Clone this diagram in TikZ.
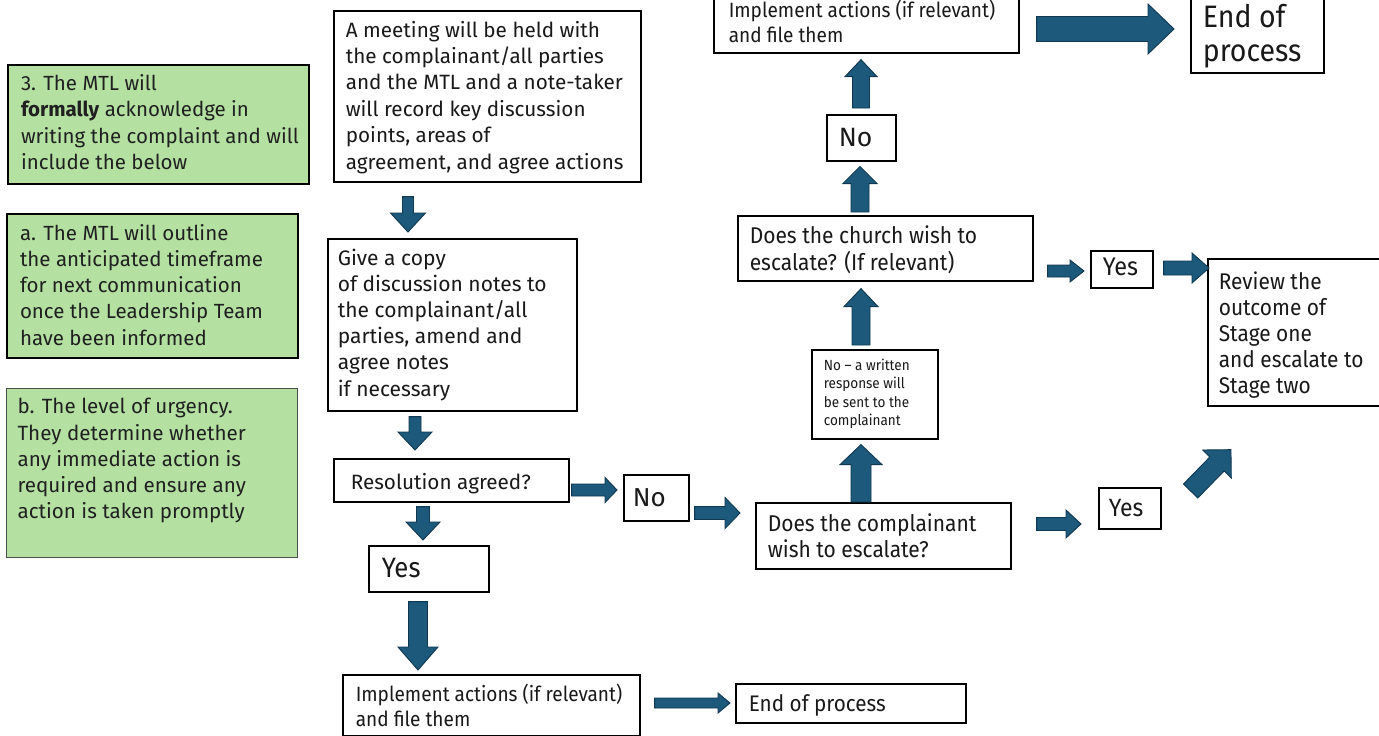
\documentclass[tikz,border=0pt]{standalone}
\usepackage{fontspec}
\setmainfont{Fira Sans}
\newfontfamily\nar[FakeStretch=0.92]{Fira Sans}
\usetikzlibrary{calc}
\definecolor{ablue}{RGB}{28,89,122}
\definecolor{adark}{RGB}{16,56,80}
\definecolor{gfill}{RGB}{180,225,162}
\definecolor{gtext}{RGB}{32,32,32}
\definecolor{btext}{RGB}{25,25,25}
\newcommand\regf[2]{\fontsize{#1}{#2}\selectfont}
\newcommand\narf[2]{\nar\fontsize{#1}{#2}\selectfont}
% optional #1: lowers the text by that many pt, without changing the box
\newcommand\lbox[3][0]{\raisebox{-#1pt}[\height][\depth]{\makebox[#2pt][l]{\begin{tabular}{@{}l@{}}#3\end{tabular}}}}
\tikzset{
  box/.style={draw=black, line width=1.6pt, fill=white, anchor=north west,
    inner ysep=0pt, text=btext},
  gbox/.style={box, fill=gfill, text=gtext, line width=2pt},
  barrow/.style={fill=ablue, draw=adark, line width=0.9pt, line join=miter},
}
% #1 start, #2 end, #3 half shaft width, #4 half head width, #5 head length
\newcommand\blockarrow[5]{%
  \draw[barrow] let \p1=(#1), \p2=(#2),
    \n1={atan2(\y2-\y1,\x2-\x1)}, \n2={veclen(\x2-\x1,\y2-\y1)} in
    ([shift={(\p1)},rotate=\n1]0pt,-#3pt) --
    ([shift={(\p1)},rotate=\n1]{\n2-#5pt},-#3pt) --
    ([shift={(\p1)},rotate=\n1]{\n2-#5pt},-#4pt) --
    ([shift={(\p1)},rotate=\n1]{\n2},0pt) --
    ([shift={(\p1)},rotate=\n1]{\n2-#5pt},#4pt) --
    ([shift={(\p1)},rotate=\n1]{\n2-#5pt},#3pt) --
    ([shift={(\p1)},rotate=\n1]0pt,#3pt) -- cycle;}
\begin{document}
\begin{tikzpicture}[x=1pt,y=-1pt]
\useasboundingbox[fill=white] (0,0) rectangle (1379,736);

% green boxes
\node[gbox, inner xsep=13pt, minimum width=301pt, minimum height=119pt, font=\regf{20.5}{26.5}] (G1) at (7,64)
  {\lbox{275}{3. The MTL will\\ \textbf{formally} acknowledge in\\ writing the complaint and will\\ include the below}};
\node[gbox, inner xsep=13pt, minimum width=291pt, minimum height=144pt, font=\regf{20.5}{26.2}] (G2) at (6,213)
  {\lbox[1.5]{265}{a. The MTL will outline\\ the anticipated timeframe\\ for next communication\\ once the Leadership Team\\ have been informed}};
\node[gbox, draw=black!70, line width=1.2pt, inner xsep=11pt, minimum width=291pt, minimum height=169pt, font=\regf{20.6}{26.2}] (G3) at (6,388)
  {\lbox[1]{269}{b. The level of urgency.\\ They determine whether\\ any immediate action is\\ required and ensure any\\ action is taken promptly\\ \mbox{}}};

% left column
\node[box, inner xsep=12pt, minimum width=307pt, minimum height=171pt, font=\regf{20.7}{26.4}] (M) at (333,10)
  {\lbox[1.5]{283}{A meeting will be held with\\ the complainant/all parties\\ and the MTL and a note-taker\\ will record key discussion\\ points, areas of\\ agreement, and agree actions}};
\node[box, inner xsep=10pt, minimum width=249pt, minimum height=172pt, font=\regf{21}{26.2}] (C) at (327,238)
  {\lbox[0.5]{229}{Give a copy\\ of discussion notes to\\ the complainant/all\\ parties, amend and\\ agree notes\\ if necessary}};
\node[box, inner xsep=17pt, minimum width=235pt, minimum height=43pt, font=\regf{20.7}{26}] (R) at (333,458)
  {\lbox[4]{201}{Resolution agreed?}};
\node[box, inner xsep=13pt, minimum width=120pt, minimum height=46pt, font=\narf{28}{30}] (Yes1) at (368,545)
  {\lbox[3]{94}{Yes}};
\node[box, inner xsep=13pt, minimum width=297pt, minimum height=61pt, font=\narf{20.7}{25}] (I1) at (342,674)
  {\lbox[3.5]{271}{Implement actions (if relevant)\\ and file them}};
\node[box, inner xsep=13pt, minimum width=230pt, minimum height=39pt, font=\narf{22.5}{26}] (E1) at (735,683)
  {\lbox[3]{204}{End of process}};
\node[box, inner xsep=9pt, minimum width=65pt, minimum height=46pt, font=\regf{26}{28}] (No1) at (623,474)
  {\lbox[3]{47}{No}};

% middle column
\node[box, inner xsep=12pt, minimum width=255pt, minimum height=66pt, font=\narf{22.8}{26.5}] (D) at (755,502)
  {\lbox[3.5]{231}{Does the complainant\\ wish to escalate?}};
\node[box, inner xsep=10pt, minimum width=62pt, minimum height=41pt, font=\narf{25}{27}] (Yes2) at (1098,487)
  {\lbox[3]{42}{Yes}};
\node[box, inner xsep=12pt, minimum width=126pt, minimum height=89pt, font=\narf{14.7}{18.6}] (W) at (811,349)
  {\lbox{102}{No – a written\\ response will\\ be sent to the\\ complainant}};
\node[box, inner xsep=12pt, minimum width=295pt, minimum height=65pt, font=\narf{22.8}{27}] (Ch) at (737,215)
  {\lbox[3]{271}{Does the church wish to\\ escalate? (If relevant)}};
\node[box, inner xsep=12pt, minimum width=69pt, minimum height=46pt, font=\regf{26.5}{28}] (No2) at (826,114)
  {\lbox[3]{45}{No}};
\node[box, inner xsep=15pt, minimum width=305pt, minimum height=57pt, font=\narf{20.7}{24.5}] (I2) at (713,-5)
  {\lbox[0.5]{275}{Implement actions (if relevant)\\ and file them}};
\node[box, inner xsep=12pt, minimum width=133pt, minimum height=78pt, font=\narf{31}{34}] (E2) at (1190,-6)
  {\lbox[3.5]{109}{End of\\ process}};
\node[box, inner xsep=12pt, minimum width=62pt, minimum height=37pt, font=\narf{25.5}{27}] (Yes3) at (1090,250)
  {\lbox[1]{38}{Yes}};
\node[box, inner xsep=11pt, minimum width=185pt, minimum height=147pt, font=\narf{22.7}{26.2}] (Rev) at (1207,258)
  {\lbox[4]{163}{Review the\\ outcome of\\ Stage one\\ and escalate to\\ Stage two}};

% arrow end points
\coordinate (a1s) at ($(M.south -| 408,0)+(0,14)$);
\coordinate (a1e) at ($(C.north -| 408,0)+(0,-6)$);
\coordinate (a2s) at ($(C.south -| 415,0)+(0,5)$);
\coordinate (a2e) at ($(R.north -| 415,0)+(0,-8)$);
\coordinate (a3s) at ($(R.south -| 423,0)+(0,4)$);
\coordinate (a3e) at ($(Yes1.north -| 423,0)+(0,-5)$);
\coordinate (a4s) at ($(Yes1.south -| 418,0)+(0,9)$);
\coordinate (a4e) at ($(I1.north -| 418,0)+(0,-4)$);
\coordinate (a5s) at ($(R.east |- 0,490)+(2,0)$);
\coordinate (a5e) at ($(No1.west |- 0,490)+(-6,0)$);
\coordinate (a6s) at ($(No1.east |- 0,513)+(5,0)$);
\coordinate (a6e) at ($(D.west |- 0,513)+(-15,0)$);
\coordinate (a7s) at ($(I1.east |- 0,703)+(14,0)$);
\coordinate (a7e) at ($(E1.west |- 0,703)+(-5,0)$);
\coordinate (a8s) at (D.north -| 861,0);
\coordinate (a8e) at ($(W.south -| 861,0)+(0,5)$);
\coordinate (a9s) at ($(W.north -| 861,0)+(0,-4)$);
\coordinate (a9e) at ($(Ch.south -| 861,0)+(0,7)$);
\coordinate (a10s) at ($(Ch.north -| 860,0)+(0,-3)$);
\coordinate (a10e) at ($(No2.south -| 860,0)+(0,5)$);
\coordinate (a11s) at ($(No2.north -| 861,0)+(0,-6)$);
\coordinate (a11e) at ($(I2.south -| 861,0)+(0,6)$);
\coordinate (a12s) at ($(Ch.east |- 0,271)+(14,0)$);
\coordinate (a12e) at ($(Yes3.west |- 0,271)+(-6,0)$);
\coordinate (a13s) at ($(Yes3.east |- 0,268)+(10,0)$);
\coordinate (a13e) at ($(Rev.west |- 0,268)+(2,0)$);
\coordinate (a14s) at ($(D.east |- 0,524)+(25,0)$);
\coordinate (a14e) at ($(Yes2.west |- 0,524)+(-17,0)$);
\coordinate (a15s) at ($(Yes2.north east)+(29,4)$);
\coordinate (a15e) at ($(Rev.south west)+(24,43)$);
\coordinate (a16s) at ($(I2.east |- 0,29)+(17,0)$);
\coordinate (a16e) at ($(E2.west |- 0,29)+(-16,0)$);

% block arrows
\blockarrow{a1s}{a1e}{5.5}{17.5}{19}
\blockarrow{a2s}{a2e}{6}{17}{18}
\blockarrow{a3s}{a3e}{6.5}{17}{18}
\blockarrow{a4s}{a4e}{9.5}{20}{23}
\blockarrow{a5s}{a5e}{6}{12.5}{12}
\blockarrow{a6s}{a6e}{6.5}{15.5}{15}
\blockarrow{a7s}{a7e}{5}{10}{12}
\blockarrow{a8s}{a8e}{10}{21}{20}
\blockarrow{a9s}{a9e}{9}{17}{18}
\blockarrow{a10s}{a10e}{9}{17}{17}
\blockarrow{a11s}{a11e}{8.5}{16}{17}
\blockarrow{a12s}{a12e}{6}{11}{14}
\blockarrow{a13s}{a13e}{7}{15}{17}
\blockarrow{a14s}{a14e}{6.5}{14}{15}
\blockarrow{a15s}{a15e}{10}{20}{20}
\blockarrow{a16s}{a16e}{12.5}{25}{26}
\end{tikzpicture}
\end{document}
